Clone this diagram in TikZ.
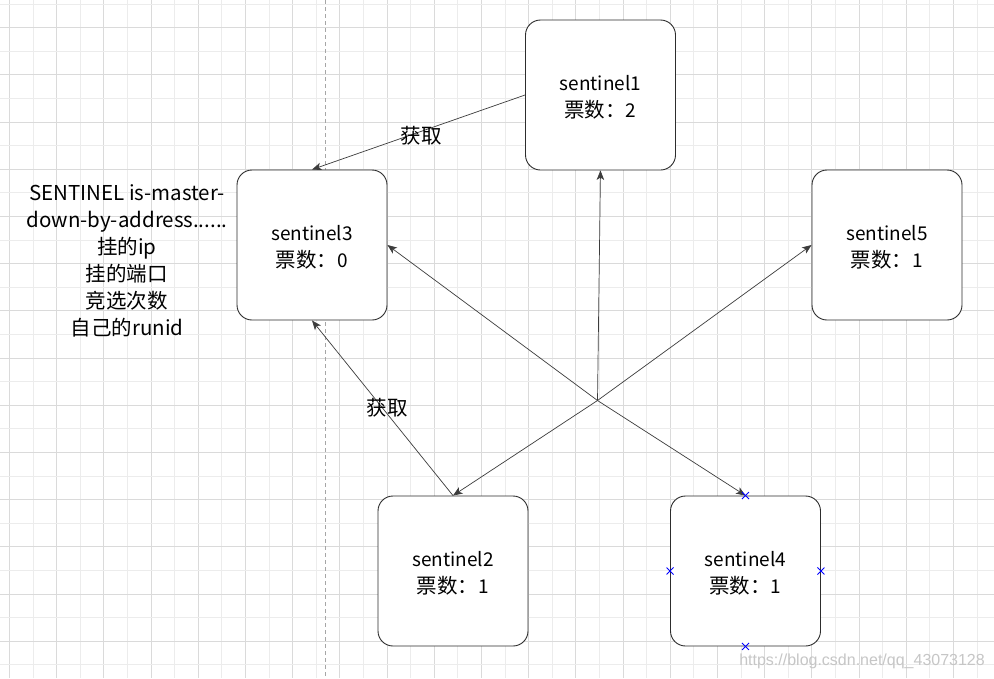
\documentclass[tikz,border=0pt]{standalone}
\usepackage{fontspec}
\setmainfont{Noto Sans CJK SC}
\newfontfamily\wmfont{Liberation Sans}
\usetikzlibrary{arrows.meta,calc}
\definecolor{gridA}{RGB}{218,218,218}
\definecolor{gridB}{RGB}{236,236,236}
\definecolor{edgec}{RGB}{60,60,60}
\definecolor{boxc}{RGB}{45,45,45}
\newcommand{\cj}[1]{{\fontsize{20.5pt}{27pt}\selectfont #1}}
\tikzset{
  sbox/.style={draw=boxc, line width=0.9pt, fill=white, rounded corners=15pt,
    minimum width=150pt, minimum height=150pt, inner sep=0pt},
  boxtext/.style={align=center, inner sep=0pt, yshift=-2.5pt,
    font=\fontsize{19pt}{27pt}\selectfont},
  conn/.style={draw=edgec, line width=0.7pt, -{Stealth[length=9.5pt,width=7.5pt,inset=2.5pt]}},
  elabel/.style={font=\fontsize{20.5pt}{27pt}\selectfont, inner sep=0pt},
  selmark/.style={draw=blue, line width=0.8pt},
}
\begin{document}
\begin{tikzpicture}[x=1pt,y=-1pt]
\useasboundingbox (0,0) rectangle (994,678);
\fill[white] (0,0) rectangle (994,678);
% grid
\foreach \i in {0,...,20} {
  \draw[gridB, line width=0.8pt] ({32.9+47.2*\i},0) -- ({32.9+47.2*\i},678);
  \draw[gridA, line width=0.8pt] ({9.3+47.2*\i},0) -- ({9.3+47.2*\i},678);
}
\foreach \i in {0,...,14} {
  \draw[gridB, line width=0.8pt] (0,{4+47.2*\i}) -- (994,{4+47.2*\i});
}
\foreach \i in {0,...,13} {
  \draw[gridA, line width=0.8pt] (0,{27.6+47.2*\i}) -- (994,{27.6+47.2*\i});
}
% dashed guide
\draw[gray!70, line width=0.7pt, dash pattern=on 4pt off 3pt] (325.5,0) -- (325.5,678);

% nodes
\node[sbox, label={[boxtext]center:sentinel1\\\cj{票数：}2}] (s1) at (600.5,95) {};
\node[sbox, label={[boxtext]center:sentinel3\\\cj{票数：}0}] (s3) at (312,245) {};
\node[sbox, label={[boxtext]center:sentinel5\\\cj{票数：}1}] (s5) at (887,245) {};
\node[sbox, label={[boxtext]center:sentinel2\\\cj{票数：}1}] (s2) at (453,571) {};
\node[sbox, label={[boxtext]center:sentinel4\\\cj{票数：}1}] (s4) at (745.5,571) {};

\node[align=center, inner sep=0pt, font=\fontsize{20.5pt}{27pt}\selectfont] (note) at (127,260.5)
  {SENTINEL is-master-\\down-by-address......\\挂的ip\\挂的端口\\竞选次数\\自己的runid};

\coordinate (J) at (597.5,400.5);

% connectors
\draw[conn] (s1.west) -- (s3.north);
\draw[conn] (s2.north) -- (s3.south);
\draw[conn] (J) -- (s1.south);
\draw[conn] (J) -- (s5.west);
\draw[conn] (J) -- (s2.north);
\draw[conn] (J) -- (s3.east);
\draw[conn] (J) -- (s4.north);

\node[elabel] (l1) at (421,136) {获取};
\node[elabel] (l2) at (387,408) {获取};

% selection markers
\foreach \a in {north,south,east,west} {
  \draw[selmark] ($(s4.\a)+(-3.5,-3.5)$) -- ($(s4.\a)+(3.5,3.5)$);
  \draw[selmark] ($(s4.\a)+(-3.5,3.5)$) -- ($(s4.\a)+(3.5,-3.5)$);
}

% watermark
\node[font=\wmfont\fontsize{16pt}{18pt}\selectfont, text=gray!45, anchor=east, inner sep=0pt] (wm) at (985,661) {https://blog.csdn.net/qq\_43073128};
\end{tikzpicture}
\end{document}
